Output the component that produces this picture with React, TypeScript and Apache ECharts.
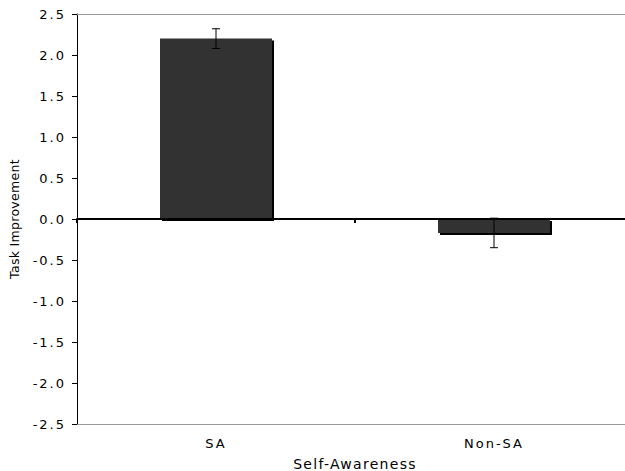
import React, { useEffect, useRef } from "react";
import * as echarts from "echarts";

const categories = ["SA", "Non-SA"];
const means = [2.2, -0.17];
const errors = [0.12, 0.18];
const yMin = -2.5;
const yMax = 2.5;
const yStep = 0.5;
const xTitle = "Self-Awareness";
const yTitle = "Task Improvement";

export default function App() {
  const ref = useRef<HTMLDivElement>(null);
  useEffect(() => {
    const chart = echarts.init(ref.current!, null, { renderer: "svg" });
    const font = "DejaVu Sans";
    chart.setOption({
      animation: false,
      backgroundColor: "#fff",
      grid: { left: 77, top: 14, width: 556, bottom: 47, outerBoundsMode: "none", containLabel: false },
      xAxis: [
        {
          type: "category",
          data: categories,
          position: "bottom",
          axisLine: { onZero: false, lineStyle: { color: "#999", width: 1 } },
          axisTick: { show: false },
          axisLabel: { color: "#000", fontSize: 13, fontFamily: font, margin: 13 },
          name: xTitle,
          nameLocation: "middle",
          nameGap: 33,
          nameTextStyle: { color: "#000", fontSize: 14, fontFamily: font },
        },
        {
          type: "category",
          data: categories,
          position: "bottom",
          z: 5,
          axisLine: { onZero: true, lineStyle: { color: "#000", width: 2 } },
          axisTick: { show: true, length: 4, lineStyle: { color: "#000", width: 2 } },
          axisLabel: { show: false },
        },
        {
          type: "category",
          data: categories,
          position: "top",
          axisLine: { lineStyle: { color: "#999", width: 1 } },
          axisTick: { show: false },
          axisLabel: { show: false },
        },
      ],
      yAxis: {
        type: "value",
        min: yMin,
        max: yMax,
        interval: yStep,
        axisLine: { show: true, lineStyle: { color: "#000", width: 1 } },
        axisTick: { show: true, length: 5, lineStyle: { color: "#000" } },
        splitLine: { show: false },
        axisLabel: {
          color: "#000",
          fontSize: 13,
          fontFamily: font,
          margin: 11,
          formatter: (v: number) => v.toFixed(1),
        },
        name: yTitle,
        nameLocation: "middle",
        nameGap: 56,
        nameTextStyle: { color: "#000", fontSize: 12.5, fontFamily: font },
      },
      series: [
        {
          type: "bar",
          xAxisIndex: 0,
          data: means,
          barWidth: 112,
          itemStyle: {
            color: "#333333",
            shadowColor: "#000",
            shadowBlur: 0,
            shadowOffsetX: 2,
            shadowOffsetY: 2,
          },
        },
        {
          type: "custom",
          xAxisIndex: 0,
          z: 6,
          data: categories.map((c, i) => [i, means[i] - errors[i], means[i] + errors[i]]),
          renderItem: (params: any, api: any) => {
            const lo = api.coord([api.value(0), api.value(1)]);
            const hi = api.coord([api.value(0), api.value(2)]);
            const w = 4;
            const st = { stroke: "#000", lineWidth: 1 };
            return {
              type: "group",
              children: [
                { type: "line", shape: { x1: lo[0], y1: lo[1], x2: hi[0], y2: hi[1] }, style: st },
                { type: "line", shape: { x1: lo[0] - w, y1: lo[1], x2: lo[0] + w, y2: lo[1] }, style: st },
                { type: "line", shape: { x1: hi[0] - w, y1: hi[1], x2: hi[0] + w, y2: hi[1] }, style: st },
              ],
            };
          },
        },
      ],
    });
    return () => chart.dispose();
  }, []);
  return (
    <>
      <style>{`
        #chartbox text { letter-spacing: 2px; }
        #chartbox text[style*="12.5px"] { letter-spacing: 0.3px; }
        #chartbox text[style*="14px"] { letter-spacing: 1.3px; }
      `}</style>
      <div
        id="chartbox"
        ref={ref}
        style={{ position: "fixed", left: 0, top: 0, width: 625, height: 471, background: "#fff" }}
      />
    </>
  );
}
